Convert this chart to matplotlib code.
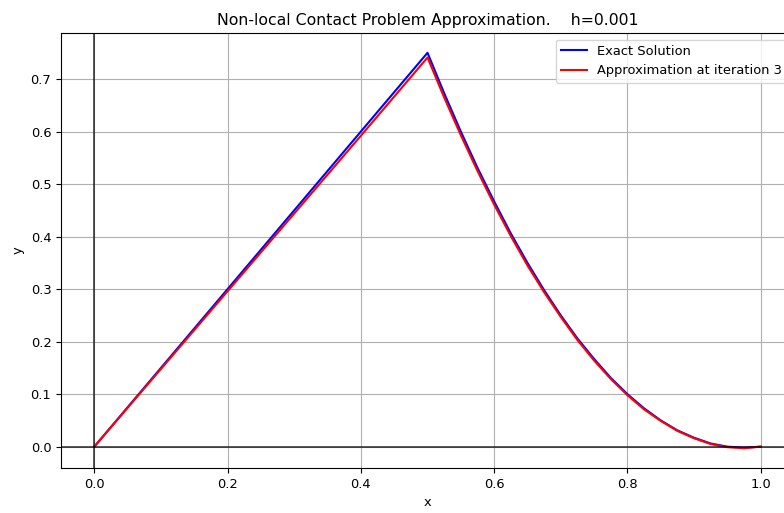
import matplotlib.pyplot as plt
import numpy as np

# values
x_pts = [0.0, 0.1, 0.2, 0.3, 0.4, 0.5,
         0.525, 0.55, 0.575, 0.6, 0.625, 0.65, 0.675, 0.7, 0.725, 0.75,
         0.775, 0.8, 0.825, 0.85, 0.875, 0.9, 0.925, 0.95, 0.975, 1.0]
exact = [0.0, 0.15, 0.30, 0.45, 0.60, 0.75,
         0.673, 0.600, 0.531, 0.467, 0.406, 0.350, 0.298, 0.250, 0.206, 0.167,
         0.131, 0.100, 0.073, 0.050, 0.031, 0.017, 0.006, 0.000, -0.002, 0.0]
approx = [0.0, 0.148, 0.296, 0.444, 0.592, 0.741,
          0.665, 0.593, 0.525, 0.461, 0.401, 0.345, 0.294, 0.247, 0.203, 0.164,
          0.129, 0.098, 0.071, 0.049, 0.030, 0.016, 0.005, -0.001, -0.003, 0.0]

fs = 9.4

fig = plt.figure(figsize=(7.84, 5.13), dpi=100)
ax = fig.add_axes([61/784, 45/513, 733/784, 435/513])

ax.plot(x_pts, exact, color='blue', label='Exact Solution')
ax.plot(x_pts, approx, color='red', label='Approximation at iteration 3')
ax.axhline(0, color='black', alpha=0.7, lw=1.3)
ax.axvline(0, color='black', alpha=0.7, lw=1.3)
ax.grid(True)
ax.set_xlabel('x', fontsize=fs)
ax.set_ylabel('y', fontsize=fs)
ax.tick_params(labelsize=fs)
ax.set_title('Non-local Contact Problem Approximation.    h=0.001', fontsize=11.3)
ax.legend(loc='upper right', fontsize=fs)

fig.savefig('out.png', dpi=100)
